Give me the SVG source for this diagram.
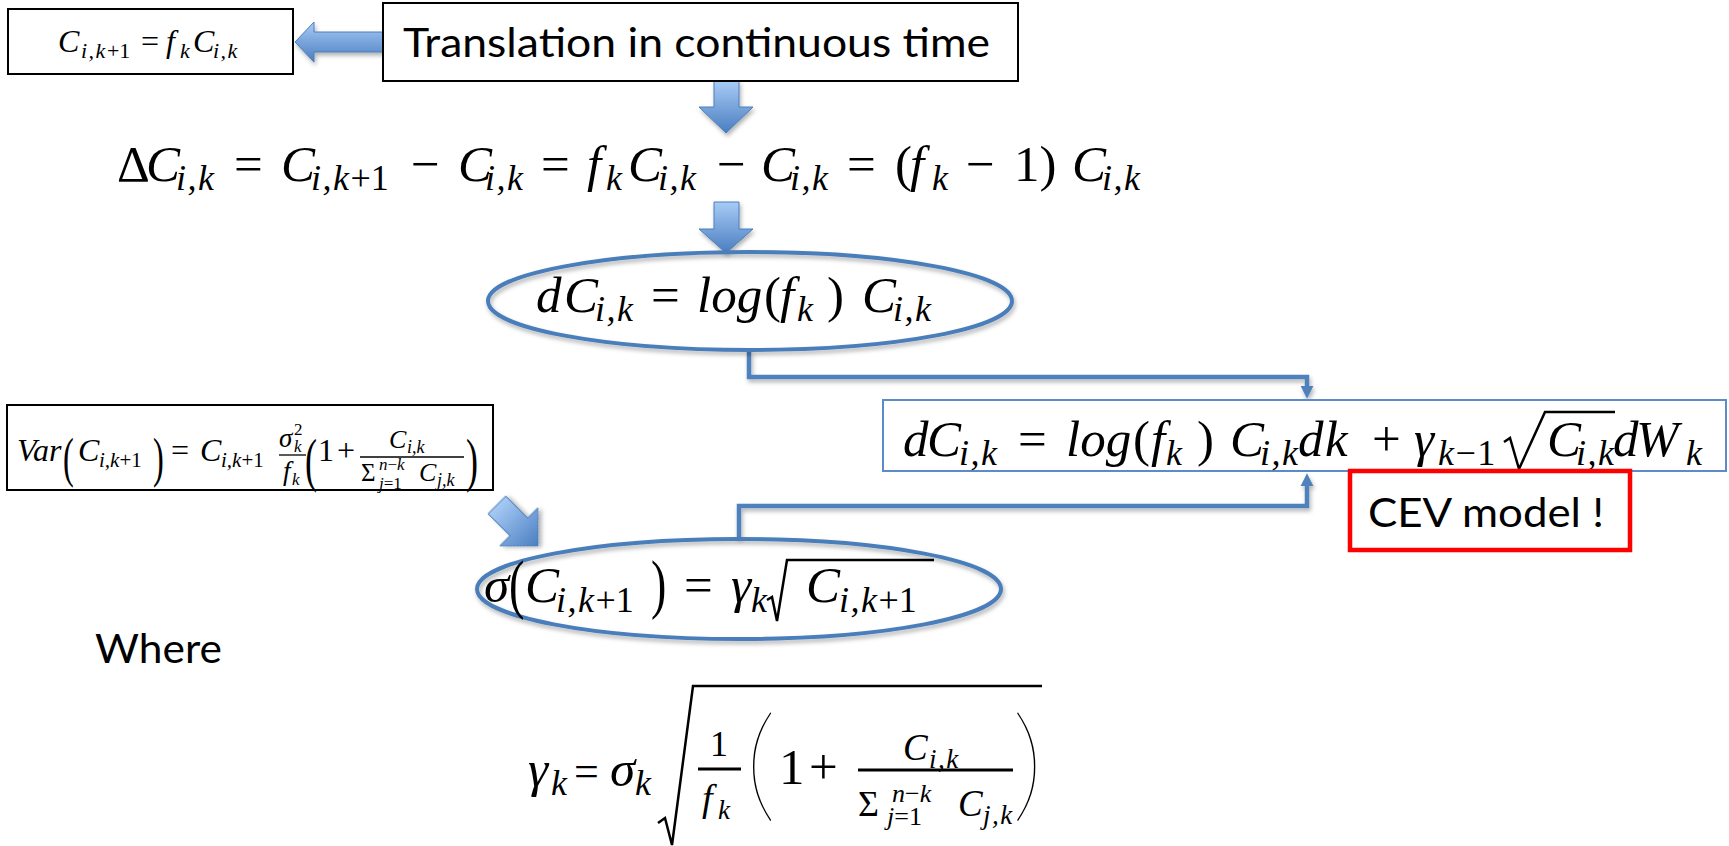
<svg xmlns="http://www.w3.org/2000/svg" width="1729" height="846" viewBox="0 0 1729 846">
<defs>
<style>
.m{font-family:"Liberation Serif","Times New Roman",serif;font-style:italic;fill:#000}
.u{font-style:normal}
.lbl{font-family:Lato,"Liberation Sans",sans-serif;fill:#000}
.box{fill:#fff;stroke:#000;stroke-width:2}
.ell{fill:none;stroke:#4A7EBB;stroke-width:4}
.conn{fill:none;stroke:#4F81BD;stroke-width:4.5}
.barr{fill:url(#bg);stroke:#4A7EBB;stroke-width:1}
.rule{stroke:#000;stroke-width:2.5;fill:none}
.sb{letter-spacing:1.5px}
.par{font-family:Lato,Roboto,"Liberation Sans",sans-serif;font-weight:200;fill:#000}
</style>
<linearGradient id="bg" x1="0" y1="0" x2="0" y2="1"><stop offset="0" stop-color="#A8CBF6"/><stop offset="1" stop-color="#4A7EC0"/></linearGradient>
<filter id="sh" x="-20%" y="-20%" width="140%" height="160%"><feDropShadow dx="1.5" dy="3" stdDeviation="2" flood-color="#000" flood-opacity="0.3"/></filter>
<marker id="ah" viewBox="0 0 10 10" refX="4" refY="5" markerWidth="13" markerHeight="14" markerUnits="userSpaceOnUse" orient="auto"><path d="M0,0 L10,5 L0,10 z" fill="#4F81BD"/></marker>
</defs>
<rect width="1729" height="846" fill="#fff"/>

<g id="connectors">
<polygon class="barr" filter="url(#sh)" points="295,42 314,22 314,32 383,32 383,52 314,52 314,62"/>
<polygon class="barr" filter="url(#sh)" points="714,81 739,81 739,107 753,107 726,133 699,107 714,107"/>
<polygon class="barr" filter="url(#sh)" points="714,202 739,202 739,229 753,229 726,253 699,229 714,229"/>
<path class="barr" filter="url(#sh)" transform="translate(538,546) rotate(-45)" d="M-12.5,-58 L12.5,-58 L12.5,-27 L27,-27 L0,0 L-27,-27 L-12.5,-27 Z"/>
<path class="conn" filter="url(#sh)" d="M749,351 V377 H1307 V391" marker-end="url(#ah)"/>
<path class="conn" filter="url(#sh)" d="M739,538 V506 H1307 V481" marker-end="url(#ah)"/>
</g>

<g id="node-small-eq">
<rect class="box" x="8" y="9" width="285" height="65"/>
<text class="m" font-size="32">
<tspan x="58" y="52">C</tspan><tspan class="sb" x="81" y="58" font-size="22">i,k</tspan><tspan class="u" y="58" font-size="22">+1</tspan>
<tspan class="u" x="141" y="52">=</tspan>
<tspan x="166" y="52">f</tspan><tspan x="180" y="58" font-size="22">k</tspan>
<tspan x="193" y="52">C</tspan><tspan class="sb" x="213" y="58" font-size="22">i,k</tspan>
</text>
</g>

<g id="node-translation">
<rect class="box" x="383" y="3" width="635" height="78"/>
<text class="lbl" x="403" y="57" font-size="41" textLength="587" lengthAdjust="spacingAndGlyphs">Translation in continuous time</text>
</g>

<g id="node-delta">
<text class="m" font-size="51">
<tspan class="u" x="117" y="181">Δ</tspan>
<tspan x="146" y="181">C</tspan><tspan class="sb" x="176" y="190" font-size="36">i,k</tspan>
<tspan class="u" x="234" y="181">=</tspan>
<tspan x="281" y="181">C</tspan><tspan class="sb" x="311" y="190" font-size="36">i,k</tspan><tspan class="u" y="190" font-size="36">+1</tspan>
<tspan class="u" x="411" y="181">−</tspan>
<tspan x="458" y="181">C</tspan><tspan class="sb" x="485" y="190" font-size="36">i,k</tspan>
<tspan class="u" x="541" y="181">=</tspan>
<tspan x="587" y="181">f</tspan><tspan x="606" y="190" font-size="36">k</tspan>
<tspan x="628" y="181">C</tspan><tspan class="sb" x="658" y="190" font-size="36">i,k</tspan>
<tspan class="u" x="717" y="181">−</tspan>
<tspan x="761" y="181">C</tspan><tspan class="sb" x="790" y="190" font-size="36">i,k</tspan>
<tspan class="u" x="847" y="181">=</tspan>
<tspan class="u" x="895" y="181">(</tspan>
<tspan x="910" y="181">f</tspan><tspan x="932" y="190" font-size="36">k</tspan>
<tspan class="u" x="966" y="181">−</tspan>
<tspan class="u" x="1014" y="181">1)</tspan>
<tspan x="1072" y="181">C</tspan><tspan class="sb" x="1102" y="190" font-size="36">i,k</tspan>
</text>
</g>

<g id="node-ellipse1">
<ellipse class="ell" filter="url(#sh)" cx="750" cy="301" rx="262" ry="49"/>
<text class="m" font-size="51">
<tspan x="536" y="312">d</tspan>
<tspan x="564" y="312">C</tspan><tspan class="sb" x="595" y="321" font-size="36">i,k</tspan>
<tspan class="u" x="651" y="312">=</tspan>
<tspan x="697" y="312">log</tspan>
<tspan class="u" x="764" y="312">(</tspan>
<tspan x="780" y="312">f</tspan><tspan x="797" y="321" font-size="36">k</tspan>
<tspan class="u" x="827" y="312">)</tspan>
<tspan x="862" y="312">C</tspan><tspan class="sb" x="893" y="321" font-size="36">i,k</tspan>
</text>
</g>

<g id="node-sde">
<rect x="883" y="400" width="843" height="71" fill="#fff" stroke="#5B8BC9" stroke-width="2"/>
<text class="m" font-size="51">
<tspan x="903" y="456">d</tspan>
<tspan x="927" y="456">C</tspan><tspan class="sb" x="959" y="465" font-size="36">i,k</tspan>
<tspan class="u" x="1018" y="456">=</tspan>
<tspan x="1066" y="456">log</tspan>
<tspan class="u" x="1133" y="456">(</tspan>
<tspan x="1151" y="456">f</tspan><tspan x="1166" y="465" font-size="36">k</tspan>
<tspan class="u" x="1197" y="456">)</tspan>
<tspan x="1230" y="456">C</tspan><tspan class="sb" x="1260" y="465" font-size="36">i,k</tspan>
<tspan x="1298" y="456">d</tspan><tspan x="1325" y="456">k</tspan>
<tspan class="u" x="1372" y="456">+</tspan>
<tspan x="1414" y="456">γ</tspan><tspan class="sb" x="1438" y="465" font-size="36">k</tspan><tspan class="u sb" y="465" font-size="36">−1</tspan>
<tspan x="1547" y="456">C</tspan><tspan class="sb" x="1576" y="465" font-size="36">i,k</tspan>
<tspan x="1613" y="456">d</tspan><tspan x="1636" y="456">W</tspan><tspan x="1686" y="465" font-size="36">k</tspan>
</text>
<path class="rule" d="M1504,442 L1510,438 L1519,469 L1545,412 L1615,412"/>
</g>

<g id="node-cev">
<rect x="1350" y="471" width="280" height="79" fill="#fff" stroke="#FF0000" stroke-width="4.5"/>
<text class="lbl" x="1368" y="527" font-size="41" textLength="236" lengthAdjust="spacingAndGlyphs">CEV model !</text>
</g>

<g id="node-var">
<rect class="box" x="7" y="405" width="486" height="85"/>
<text class="m" font-size="32">
<tspan x="17" y="461">Var</tspan>
<tspan x="78" y="461">C</tspan><tspan x="99" y="467" font-size="21">i,k</tspan><tspan class="u" y="467" font-size="21">+1</tspan>
<tspan class="u" x="171" y="461">=</tspan>
<tspan x="200" y="461">C</tspan><tspan x="221" y="467" font-size="21">i,k</tspan><tspan class="u" y="467" font-size="21">+1</tspan>
<tspan x="279" y="447" font-size="27">σ</tspan><tspan class="u" x="294" y="435" font-size="17">2</tspan><tspan x="294" y="452" font-size="17">k</tspan>
<tspan x="283" y="480" font-size="27">f</tspan><tspan x="292" y="485" font-size="17">k</tspan>
<tspan class="u" x="318" y="461">1</tspan>
<tspan class="u" x="337" y="461">+</tspan>
<tspan x="389" y="448" font-size="26">C</tspan><tspan x="407" y="453" font-size="18">i,k</tspan>
<tspan class="u" x="361" y="481" font-size="25">Σ</tspan>
<tspan x="379" y="470" font-size="17">n</tspan><tspan class="u" y="470" font-size="17">−</tspan><tspan y="470" font-size="17">k</tspan>
<tspan x="379" y="489" font-size="17">j</tspan><tspan class="u" y="489" font-size="17">=1</tspan>
<tspan x="419" y="481" font-size="26">C</tspan><tspan x="437" y="486" font-size="18">j,k</tspan>
</text>
<text class="m u" font-size="54" transform="translate(63,476) scale(0.6,1)">(</text>
<text class="m u" font-size="54" transform="translate(153,476) scale(0.6,1)">)</text>
<text class="m u" font-size="60" transform="translate(305,480) scale(0.6,1)">(</text>
<text class="m u" font-size="60" transform="translate(466,480) scale(0.6,1)">)</text>
<line x1="279" y1="455" x2="306" y2="455" stroke="#000" stroke-width="1.3"/>
<line x1="360" y1="457" x2="464" y2="457" stroke="#000" stroke-width="1.3"/>
</g>

<g id="node-ellipse2">
<ellipse class="ell" filter="url(#sh)" cx="739" cy="589" rx="262" ry="50"/>
<text class="m" font-size="51">
<tspan x="484" y="602">σ</tspan>
<tspan x="525" y="602">C</tspan><tspan class="sb" x="556" y="612" font-size="36">i,k</tspan><tspan class="u" y="612" font-size="36">+1</tspan>
<tspan class="u" x="684" y="602">=</tspan>
<tspan x="731" y="602">γ</tspan><tspan x="751" y="612" font-size="36">k</tspan>
<tspan x="806" y="602">C</tspan><tspan class="sb" x="839" y="612" font-size="36">i,k</tspan><tspan class="u" y="612" font-size="36">+1</tspan>
</text>
<text class="m u" font-size="66" transform="translate(509,606) scale(0.7,1)">(</text>
<text class="m u" font-size="66" transform="translate(651,606) scale(0.7,1)">)</text>
<path class="rule" d="M767,600 L772,597 L777,621 L787,560 L934,560"/>
</g>

<g id="node-where">
<text class="lbl" x="95" y="663" font-size="41" textLength="127" lengthAdjust="spacingAndGlyphs">Where</text>
</g>

<g id="node-gamma">
<text class="m" font-size="51">
<tspan x="528" y="786">γ</tspan><tspan x="551" y="795" font-size="36">k</tspan>
<tspan class="u" x="574" y="786" font-size="44">=</tspan>
<tspan x="610" y="786">σ</tspan><tspan x="635" y="795" font-size="36">k</tspan>
<tspan class="u" x="710" y="756" font-size="36">1</tspan>
<tspan x="702" y="811" font-size="38">f</tspan><tspan x="718" y="819" font-size="27">k</tspan>
<tspan class="u" x="779" y="784">1</tspan>
<tspan class="u" x="809" y="784">+</tspan>
<tspan x="903" y="760" font-size="37">C</tspan><tspan class="sb" x="929" y="768" font-size="27">i,k</tspan>
<tspan class="u" x="858" y="816" font-size="36">Σ</tspan>
<tspan x="892" y="802" font-size="26">n</tspan><tspan class="u" y="802" font-size="26">−</tspan><tspan y="802" font-size="26">k</tspan>
<tspan x="887" y="825" font-size="26">j</tspan><tspan class="u" y="825" font-size="26">=1</tspan>
<tspan x="958" y="816" font-size="37">C</tspan><tspan class="sb" x="983" y="824" font-size="27">j,k</tspan>
</text>
<text class="par" font-size="125" x="745" y="806">(</text>
<text class="par" font-size="125" x="1012" y="806">)</text>
<line x1="698" y1="769" x2="741" y2="769" stroke="#000" stroke-width="3"/>
<line x1="858" y1="770" x2="1013" y2="770" stroke="#000" stroke-width="3"/>
<path class="rule" stroke-width="3" d="M658,823 L665,818 L672,845 L693,686 L1042,686"/>
</g>
</svg>
